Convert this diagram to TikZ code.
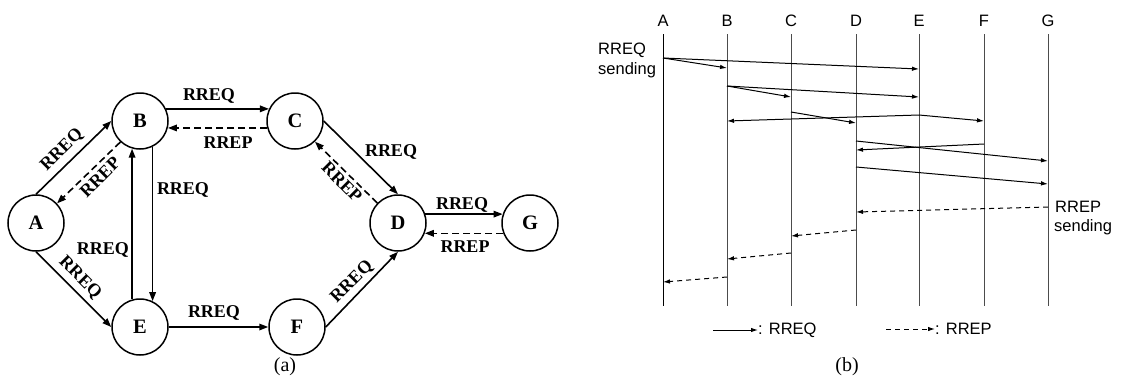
\documentclass[tikz,border=0pt]{standalone}
\usepackage{fontspec}
\setmainfont{Liberation Serif}
\newfontfamily\arialf{Liberation Sans}
\usetikzlibrary{arrows.meta}
\begin{document}
\begin{tikzpicture}[x=1pt,y=-1pt,
  peer/.style={circle,draw,line width=1.5pt,minimum size=56pt,inner sep=0pt,font=\fontsize{20.5}{24}\selectfont\bfseries},
  lbl/.style={font=\fontsize{18}{20}\selectfont\bfseries,inner sep=0pt},
  sol/.style={line width=1.6pt,-{Triangle[length=9pt,width=6.5pt]}},
  dsh/.style={sol,dash pattern=on 7pt off 4pt},
  subcap/.style={font=\fontsize{20}{22}\selectfont\rmfamily,inner sep=0pt},
  hdr/.style={font=\arialf\fontsize{16.5}{20}\selectfont,inner sep=0pt},
  life/.style={line width=0.9pt,black!70},
  req/.style={line width=1pt,-{Latex[length=7pt,width=4.5pt]}},
  rep/.style={req,dash pattern=on 5pt off 4pt},
]
\useasboundingbox (0,0) rectangle (1123,378);
% ---------- (a) ----------
\node[peer] (A) at (36,223) {A};
\node[peer] (B) at (140,121) {B};
\node[peer] (C) at (295,121) {C};
\node[peer] (D) at (398,223) {D};
\node[peer] (E) at (140,327) {E};
\node[peer] (F) at (297,327) {F};
\node[peer] (G) at (530,223) {G};

\draw[sol] (A.90) -- (B.180);
\draw[dsh] (B.-133) -- (A.43);
\draw[sol] (B.25) -- (C.155);
\draw[dsh] (C.194.5) -- (B.-14.5);
\draw[sol] (B.-64.6) -- (E.64.6);
\draw[sol] (E.106.6) -- (B.-106.6);
\draw[sol] (A.-90) -- (E.180);
\draw[sol] (E.0) -- (F.180);
\draw[sol] (C.0) -- (D.90);
\draw[dsh] (D.136) -- (C.-46);
\draw[sol] (F.0) -- (D.-90);
\draw[sol] (D.18) -- (G.162);
\draw[dsh] (G.201) -- (D.-21);

\node[lbl,rotate=45] (lAB) at (62,150) {RREQ};
\node[lbl,rotate=45] (lBA) at (100,177) {RREP};
\node[lbl] (lBC) at (209,96) {RREQ};
\node[lbl] (lCB) at (228,143) {RREP};
\node[lbl] (lBE) at (183,190) {RREQ};
\node[lbl] (lEB) at (103,250) {RREQ};
\node[lbl,rotate=-45] (lAE) at (80,278) {RREQ};
\node[lbl] (lEF) at (214,313) {RREQ};
\node[lbl] (lCD) at (391,152) {RREQ};
\node[lbl,rotate=-45] (lDC) at (342,182) {RREP};
\node[lbl] (lDG) at (462,205) {RREQ};
\node[lbl] (lGD) at (465,247) {RREP};
\node[lbl,rotate=45] (lFD) at (352,282) {RREQ};
\node[subcap] (capa) at (285,367) {(a)};

% ---------- (b) ----------
\foreach \n/\x in {A/663,B/727,C/791,D/856,E/919,F/984,G/1048}{
  \node[hdr] (h\n) at (\x,20.5) {\n};
  \coordinate (t\n) at (\x,34);
  \coordinate (b\n) at (\x,306);
  \draw[life] (t\n) -- (b\n);
}
\draw[line width=0.9pt] (tA) -- (bA);
\node[hdr,anchor=base west] (s1) at (598,54) {RREQ};
\node[hdr,anchor=base west] (s2) at (598,74) {sending};
\node[hdr,anchor=base west] (s3) at (1055,212) {RREP};
\node[hdr,anchor=base west] (s4) at (1054,231) {sending};

\draw[req] (hA |- 0,58) -- (hE |- 0,69);
\draw[req] (hA |- 0,58) -- (hB |- 0,68);
\draw[req] (hB |- 0,86) -- (hE |- 0,97);
\draw[req] (hB |- 0,86) -- (hC |- 0,97);
\draw[req] (hC |- 0,112) -- (hD |- 0,123);
\draw[req] (hE |- 0,115) -- (hB |- 0,121);
\draw[req] (hE |- 0,115) -- (hF |- 0,121);
\draw[req] (hF |- 0,144) -- (hD |- 0,150);
\draw[req] (hD |- 0,141) -- (hG |- 0,161);
\draw[req] (hD |- 0,167) -- (hG |- 0,184);
\draw[rep] (hG |- 0,207) -- (hD |- 0,212);
\draw[rep] (hD |- 0,230) -- (hC |- 0,236);
\draw[rep] (hC |- 0,253) -- (hB |- 0,259);
\draw[rep] (hB |- 0,277) -- (hA |- 0,282);

\coordinate (k1) at (713,330);
\node[hdr,anchor=west] (k1t) at (758,330) {: RREQ};
\draw[req] (k1) -- (k1t.west);
\coordinate (k2) at (886,329);
\node[hdr,anchor=west] (k2t) at (935,329) {: RREP};
\draw[rep] (k2) -- (k2t.west);
\node[subcap] (capb) at (847,367) {(b)};
\end{tikzpicture}
\end{document}
